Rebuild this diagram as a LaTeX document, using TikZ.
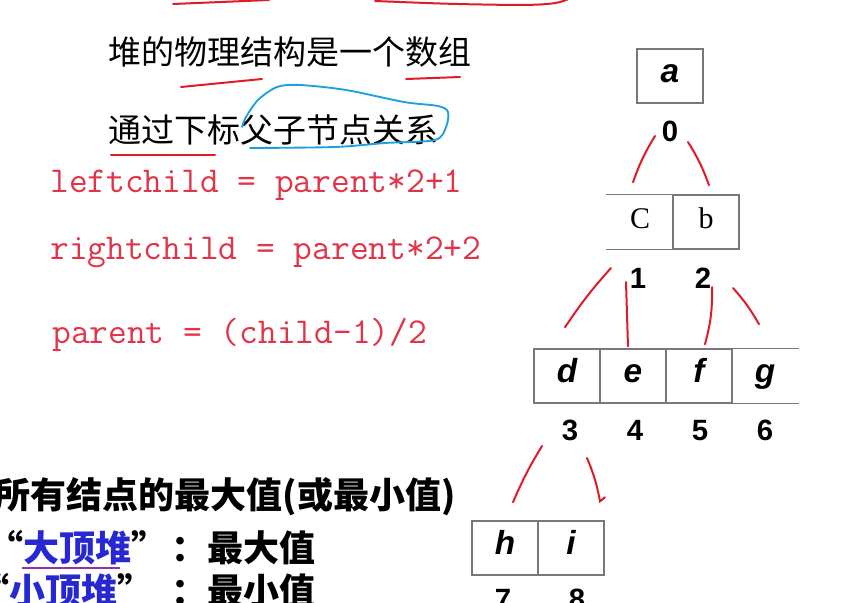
\documentclass[tikz,border=0pt]{standalone}
\usepackage{fontspec}
\usepackage{xcolor}
\usetikzlibrary{calc}

\newfontfamily\cjk{Noto Sans CJK SC}
\newfontfamily\arialfont{Liberation Sans}
\newfontfamily\timesfont{Liberation Serif}

\definecolor{inkred}{RGB}{222,28,40}
\definecolor{codered}{RGB}{224,52,72}
\definecolor{lassoblue}{RGB}{30,160,222}
\definecolor{wordblue}{RGB}{40,40,210}
\definecolor{markpurple}{RGB}{150,50,160}
\definecolor{boxgray}{RGB}{120,120,120}

\begin{document}
\begin{tikzpicture}[x=0.75pt,y=-0.75pt,
  cell/.style={draw=boxgray,line width=1.1pt,minimum width=49.5pt,minimum height=40.5pt,inner sep=0pt,
    text height=13pt,text depth=3pt,
    font=\arialfont\bfseries\itshape\fontsize{25}{25}\selectfont},
  opencell/.style={cell,draw=none},
  romancell/.style={font=\timesfont\fontsize{22.5}{22.5}\selectfont},
  idx/.style={font=\arialfont\bfseries\fontsize{22}{22}\selectfont,inner sep=0pt,text height=16pt,text depth=0pt},
  codeline/.style={font=\ttfamily\fontsize{27.3}{30}\selectfont,text=codered,anchor=west,inner sep=0pt},
  bigtext/.style={font=\cjk\bfseries\fontsize{27}{30}\selectfont,inner sep=0pt},
  ink/.style={draw=inkred,line width=1.5pt,line cap=round},
  lasso/.style={draw=lassoblue,line width=1.4pt,line cap=round}]
  \useasboundingbox (0,0) rectangle (850,603);
  \clip (0,0) rectangle (850,603);

  % text on the left
  \node[anchor=west,font=\cjk\fontsize{24.75}{28}\selectfont] (physline) at (104,52) {堆的物理结构是一个数组};
  \node[anchor=west,font=\cjk\fontsize{24.75}{28}\selectfont] (indexline) at (104,130) {通过下标父子节点关系};
  \node[codeline] (leftline) at (50,185) {leftchild = parent*2+1};
  \node[codeline] (rightline) at (50,252) {rightchild = parent*2+2};
  \node[codeline] (parentline) at (52,335) {parent = (child-1)/2};
  \node[bigtext,anchor=east] (maxline) at (456,497) {所有结点的最大值(或最小值)};
  \node[bigtext,anchor=west] (bigword) at (-13,548) {“\textcolor{wordblue}{大顶堆}”};
  \node[bigtext,anchor=east] (bigvalue) at (316,548) {：最大值};
  \node[bigtext,anchor=west] (smallword) at (-27,591) {“\textcolor{wordblue}{小顶堆}”};
  \node[bigtext,anchor=east] (smallvalue) at (316,591) {：最小值};

  % the array, level by level
  \node[cell] (ca) at (670,76) {a};
  \node[opencell,romancell] (cC) at (640,222) {C};
  \node[cell,romancell] (cb) at (706,222) {b};
  \draw[boxgray,line width=1.1pt] (cC.north west) -- (cC.north east) (cC.south west) -- (cC.south east);
  \node[cell] (cd) at (567,376) {d};
  \node[cell] (ce) at (633,376) {e};
  \node[cell] (cf) at (699,376) {f};
  \node[opencell] (cg) at (765,376) {g};
  \draw[boxgray,line width=1.1pt] (cg.north west) -- (cg.north east) (cg.south west) -- (cg.south east);
  \node[cell] (ch) at (505,548) {h};
  \node[cell] (ci) at (571,548) {i};

  \node[idx] (i0) at (670,131) {0};
  \node[idx] (i1) at (638,278) {1};
  \node[idx] (i2) at (703,278) {2};
  \node[idx] (i3) at (570,430) {3};
  \node[idx] (i4) at (635,430) {4};
  \node[idx] (i5) at (700,430) {5};
  \node[idx] (i6) at (765,430) {6};
  \node[idx] (i7) at (503,599) {7};
  \node[idx] (i8) at (577,599) {8};

  % red pen: parent to children
  \draw[ink] ($(i0)+(-15,5)$) to[bend right=6] ($(cC.north)+(-7,-12)$);
  \draw[ink] ($(i0)+(18,11)$) to[bend left=6] ($(cb.north)+(3,-9)$);
  \draw[ink] ($(i1)+(-27,-10)$) to[bend right=4] ($(cd.north)+(-2,-21)$);
  \draw[ink] ($(i1)+(-12,4)$) -- ($(ce.north)+(-5,-2)$);
  \draw[ink] ($(i2)+(9,9)$) to[bend left=8] ($(cf.north)+(6,-4)$);
  \draw[ink] ($(i2)+(30,10)$) to[bend left=6] ($(cg.north)+(-6,-24)$);
  \draw[ink] ($(i3)+(-28,16)$) to[bend right=4] ($(ch.north)+(8,-18)$);
  \draw[ink] ($(i3)+(17,28)$) to[bend left=6] ($(ci.north)+(29,-19)$) -- ++(5,-4);

  % red pen: underlines
  \draw[ink] (173,4) -- (269,0);
  \draw[ink] (375,1) .. controls (450,4) .. (512,5) .. controls (545,5) and (560,4) .. (570,-2);
  \draw[ink] (181,87) -- (262,79);
  \draw[ink] (406,79) -- (460,77);
  \draw[ink] (111,155) -- (215,155);
  \draw[markpurple,line width=1.4pt] (22,568) -- (120,568);

  % blue loop
  \draw[lasso] plot[smooth] coordinates {(250,148) (335,147) (385,143) (435,140) (446,127) (448,112)
    (438,106) (404,102) (346,90) (300,85) (277,87) (258,100) (246,117) (242,127)};
\end{tikzpicture}
\end{document}
